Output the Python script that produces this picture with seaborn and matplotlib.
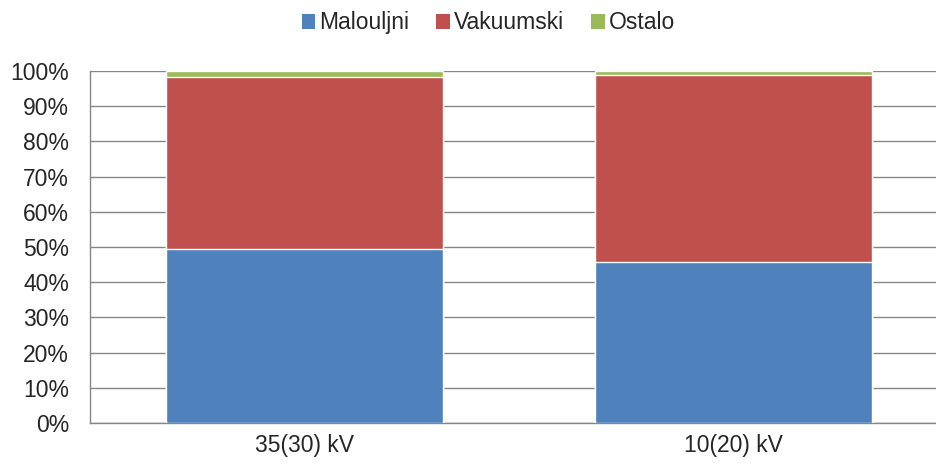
import pandas as pd
import seaborn as sns
import matplotlib.pyplot as plt
from matplotlib.patches import Patch
from matplotlib.ticker import PercentFormatter

categories = ['35(30) kV', '10(20) kV']
malouljni = [49.4, 45.7]
vakuumski = [48.8, 53.2]
ostalo = [1.8, 1.1]

series_names = ['Malouljni', 'Vakuumski', 'Ostalo']
colors = ['#4F81BD', '#C0504D', '#9BBB59']

df = pd.DataFrame({'kat': categories, 'Malouljni': malouljni,
                   'Vakuumski': vakuumski, 'Ostalo': ostalo})
df['c1'] = df['Malouljni']
df['c2'] = df['c1'] + df['Vakuumski']
df['c3'] = df['c2'] + df['Ostalo']

sns.set_style('white')
plt.rcParams['font.family'] = ['Liberation Sans', 'DejaVu Sans']

fig, ax = plt.subplots(figsize=(9.37, 4.63), dpi=100)
fig.subplots_adjust(left=0.096, right=1.0, bottom=0.086, top=0.847)

for col, c in zip(['c3', 'c2', 'c1'], colors[::-1]):
    sns.barplot(data=df, x='kat', y=col, color=c, width=0.645,
                saturation=1, ax=ax, zorder=3)

ax.set_ylim(0, 100)
ax.set_xlim(-0.5, 1.475)
ax.set_yticks(range(0, 101, 10))
ax.yaxis.set_major_formatter(PercentFormatter(decimals=0))
ax.grid(axis='y', color='#868686', linewidth=1.0, zorder=0)
ax.set_axisbelow(True)
ax.set_xlabel('')
ax.set_ylabel('')
for s in ['top', 'right']:
    ax.spines[s].set_visible(False)
for s in ['left', 'bottom']:
    ax.spines[s].set_color('#868686')
    ax.spines[s].set_linewidth(1.0)
ax.tick_params(axis='y', labelsize=16.5, length=0, pad=15)
ax.tick_params(axis='x', labelsize=16.5, length=0, pad=8)

handles = [Patch(facecolor=c, edgecolor='none') for c in colors]
fig.legend(handles, series_names, loc='upper center', bbox_to_anchor=(0.521, 1.02),
           ncol=3, frameon=False, fontsize=16.5, handlelength=0.6,
           handleheight=0.6, handletextpad=0.15, columnspacing=1.2)

plt.savefig('out.png', dpi=100)
